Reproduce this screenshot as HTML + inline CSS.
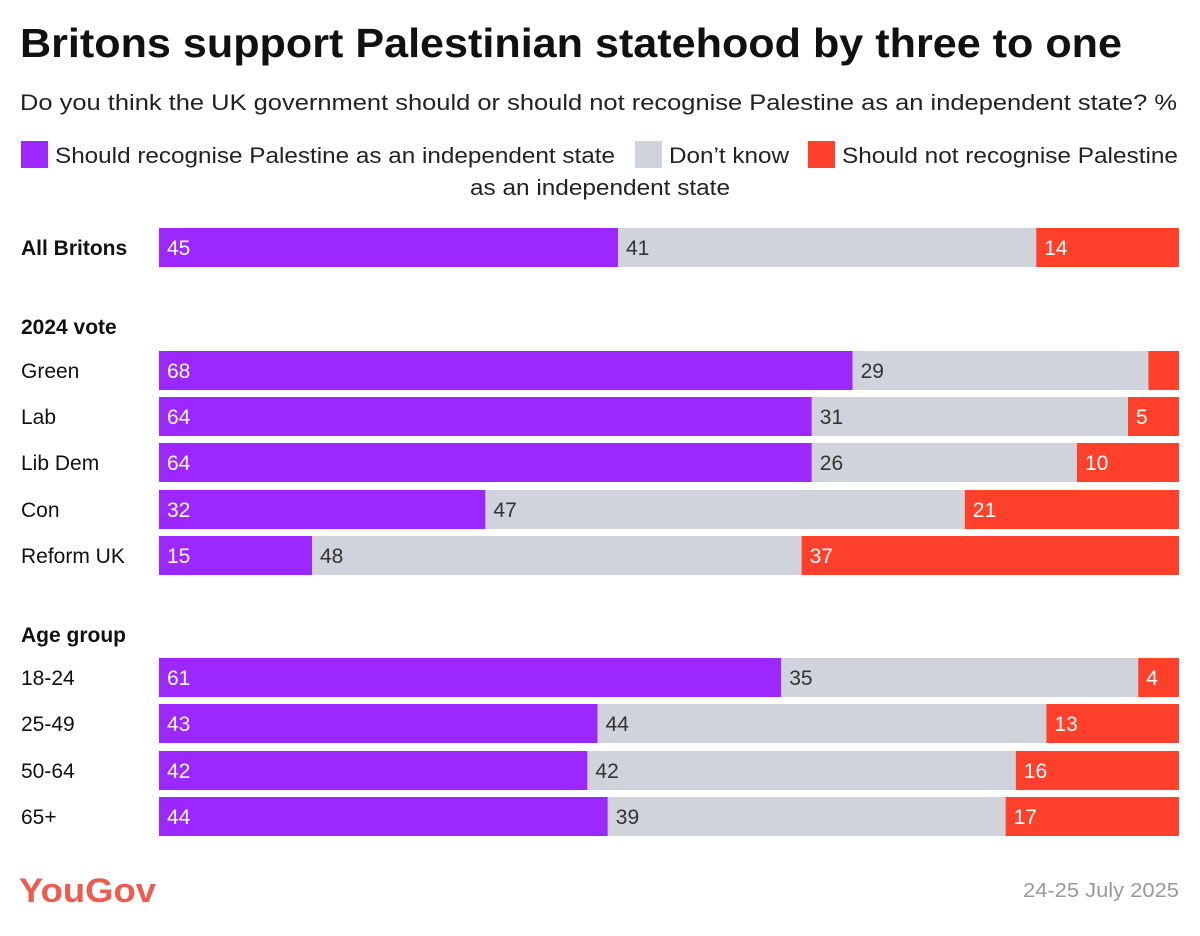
<!DOCTYPE html>
<html><head><meta charset="utf-8">
<style>
body{margin:0;background:#fff;width:1200px;height:931px;overflow:hidden;font-family:"Liberation Sans",sans-serif;color:#111;}
</style></head>
<body>
<svg id="chart" width="1200" height="931" xmlns="http://www.w3.org/2000/svg" font-family="Liberation Sans, sans-serif">
<text x="20" y="57" font-size="41" font-weight="bold" fill="#111" textLength="1102" lengthAdjust="spacingAndGlyphs">Britons support Palestinian statehood by three to one</text>
<text x="20" y="110" font-size="22" fill="#222" textLength="1157" lengthAdjust="spacingAndGlyphs">Do you think the UK government should or should not recognise Palestine as an independent state? %</text>
<g>
<rect x="21" y="141" width="27" height="27" fill="#9d27ff"/>
<text x="55" y="163" font-size="22" fill="#222" textLength="560" lengthAdjust="spacingAndGlyphs">Should recognise Palestine as an independent state</text>
<rect x="635" y="141" width="27" height="27" fill="#d0d2dc"/>
<text x="669" y="163" font-size="22" fill="#222" textLength="120" lengthAdjust="spacingAndGlyphs">Don’t know</text>
<rect x="808" y="141" width="27" height="27" fill="#ff412c"/>
<text x="842" y="163" font-size="22" fill="#222" textLength="336" lengthAdjust="spacingAndGlyphs">Should not recognise Palestine</text>
<text x="470" y="195" font-size="22" fill="#222" textLength="260" lengthAdjust="spacingAndGlyphs">as an independent state</text>
</g>
<text x="21" y="334" font-size="21" font-weight="bold" fill="#111">2024 vote</text>
<text x="21" y="642" font-size="21" font-weight="bold" fill="#111">Age group</text>
<g id="bars"></g>
<text x="19" y="902" font-size="34" font-weight="bold" fill="#ee5c50" textLength="137" lengthAdjust="spacingAndGlyphs">YouGov</text>
<text x="1179" y="897" font-size="20" fill="#999" text-anchor="end" textLength="156" lengthAdjust="spacingAndGlyphs">24-25 July 2025</text>
</svg>
<script>
const categories = ["All Britons","Green","Lab","Lib Dem","Con","Reform UK","18-24","25-49","50-64","65+"];
const recognise = [45,68,64,64,32,15,61,43,42,44];
const dontKnow = [41,29,31,26,47,48,35,44,42,39];
const notRecognise = [14,3,5,10,21,37,4,13,16,17];
const rowTops = [228,351,397,443,490,536,658,704,751,797];
const X0 = 159, W = 1020, H = 39;
const xs = v => v / 100 * W;
const g = document.getElementById('bars');
const NS = 'http://www.w3.org/2000/svg';
const series = [[recognise,'#9d27ff','#fff','recognise'],[dontKnow,'#d0d2dc','#333','dont-know'],[notRecognise,'#ff412c','#fff','not-recognise']];
categories.forEach((c,i)=>{
  const y = rowTops[i];
  const lab = document.createElementNS(NS,'text');
  
  
  lab.setAttribute('x',21); lab.setAttribute('y',y+27);
  lab.setAttribute('font-size',21);
  if(i===0) lab.setAttribute('font-weight','bold');
  lab.setAttribute('fill','#111');
  lab.textContent = c; g.appendChild(lab);
  let cx = X0;
  series.forEach(([arr,col,tc,nm])=>{
    const w = xs(arr[i]);
    const r = document.createElementNS(NS,'rect');
    
    
    r.setAttribute('x',cx); r.setAttribute('y',y);
    r.setAttribute('width',w); r.setAttribute('height',H);
    r.setAttribute('fill',col); g.appendChild(r);
    if(arr[i]>=4){
      const t = document.createElementNS(NS,'text');
      
      
      t.setAttribute('x',cx+8); t.setAttribute('y',y+27);
      t.setAttribute('font-size',21); t.setAttribute('fill',tc);
      t.textContent = arr[i]; g.appendChild(t);
    }
    cx += w;
  });
});
</script>
</body></html>
